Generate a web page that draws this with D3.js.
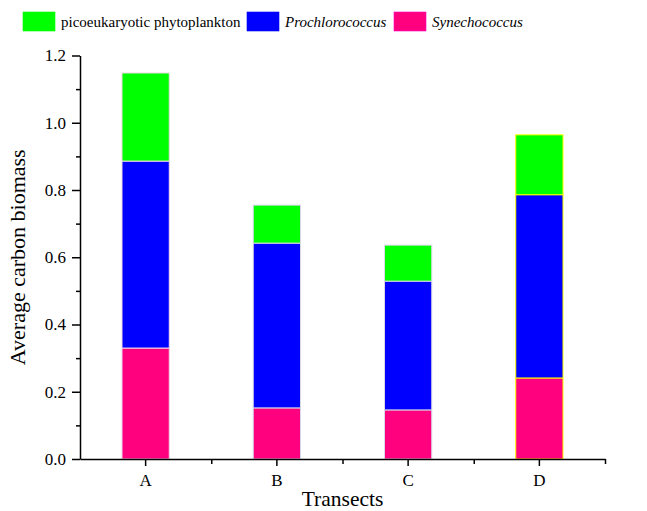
<!DOCTYPE html>
<html>
<head>
<meta charset="utf-8">
<script src="https://cdn.jsdelivr.net/npm/d3@7"></script>
<style>
  body { margin: 0; background: #fff; }
</style>
</head>
<body>
<div id="graph"></div>
<script>
// Data
const transects = ['A', 'B', 'C', 'D']
const synechococcus = [0.33, 0.152, 0.146, 0.241]
const prochlorococcus = [0.556, 0.49, 0.383, 0.545]
const picoeukaryotes = [0.262, 0.113, 0.107, 0.178]
const yTicks = [0.0, 0.2, 0.4, 0.6, 0.8, 1.0, 1.2]

const seriesNames = ['picoeukaryotic phytoplankton', 'Prochlorococcus', 'Synechococcus']
const seriesColors = ['#00ff00', '#0000ff', '#ff007f']

const serif = '"Liberation Serif", "Times New Roman", serif'

const total_width = 647
const total_height = 511
const margins = { top: 55.5, left: 80, right: 42, bottom: 52 }
const width = total_width - margins.left - margins.right
const height = total_height - margins.top - margins.bottom

const svg = d3.select('#graph').append('svg')
  .attr('width', total_width)
  .attr('height', total_height)
  .style('font-family', serif)

const g = svg.append('g')
  .attr('transform', `translate(${margins.left}, ${margins.top})`)

const x = d3.scaleBand().domain(transects).range([0, width]).padding(0)
const y = d3.scaleLinear().domain([0, 1.2]).range([height, 0])

// build rows for the stack (bottom to top: Syn, Pro, Pico)
const rows = transects.map((t, i) => ({
  transect: t,
  Synechococcus: synechococcus[i],
  Prochlorococcus: prochlorococcus[i],
  'picoeukaryotic phytoplankton': picoeukaryotes[i]
}))
const stackKeys = ['Synechococcus', 'Prochlorococcus', 'picoeukaryotic phytoplankton']
const stacked = d3.stack().keys(stackKeys)(rows)
const color = d3.scaleOrdinal().domain(seriesNames).range(seriesColors)
const outline = d3.scaleOrdinal().domain(transects).range(['#f0d8e8', '#d8d8e8', '#d8d8e8', '#ffff00'])

const barWidth = x.bandwidth() * 0.36

g.selectAll('.layer')
  .data(stacked)
  .enter().append('g')
  .attr('class', 'layer')
  .attr('fill', d => color(d.key))
  .selectAll('rect')
  .data(d => d)
  .enter().append('rect')
  .attr('x', d => x(d.data.transect) + (x.bandwidth() - barWidth) / 2)
  .attr('width', barWidth)
  .attr('y', d => y(d[1]))
  .attr('height', d => y(d[0]) - y(d[1]))
  .attr('stroke', d => outline(d.data.transect))
  .attr('stroke-width', 1)

// y axis with minor ticks
const yMinor = d3.range(0.1, 1.2, 0.2)
g.append('g')
  .call(d3.axisLeft(y).tickValues(yMinor).tickSize(4).tickFormat(''))
  .call(a => a.select('.domain').remove())
  .selectAll('line').attr('stroke-width', 1.5)
const yAxis = g.append('g')
  .call(d3.axisLeft(y).tickValues(yTicks).tickSize(8).tickSizeOuter(0).tickFormat(d3.format('.1f')))
yAxis.attr('font-family', serif).attr('font-size', 17)
yAxis.select('.domain').attr('stroke-width', 1.5)
yAxis.selectAll('line').attr('stroke-width', 1.5)
yAxis.selectAll('text').attr('x', -14)

// x axis: major ticks at centres, minor at band edges
g.append('g')
  .attr('transform', `translate(0, ${height})`)
  .call(d3.axisBottom(d3.scaleLinear().domain([0, 1]).range([0, width]))
    .tickValues(transects.slice(1).map(t => x(t) / width).concat([1])).tickSize(5).tickFormat(''))
  .call(a => a.select('.domain').remove())
  .selectAll('line').attr('stroke-width', 1.5)
const xAxis = g.append('g')
  .attr('transform', `translate(0, ${height})`)
  .call(d3.axisBottom(x).tickSize(7).tickSizeOuter(0))
xAxis.attr('font-family', serif).attr('font-size', 17)
xAxis.select('.domain').attr('stroke-width', 1.5)
xAxis.selectAll('line').attr('stroke-width', 1.5)
xAxis.selectAll('text').attr('y', 15)

// axis titles
svg.append('text')
  .attr('x', margins.left + width / 2)
  .attr('y', 506)
  .attr('text-anchor', 'middle')
  .attr('font-size', 21.5)
  .text('Transects')

svg.append('text')
  .attr('transform', `translate(25, ${margins.top + height / 2}) rotate(-90)`)
  .attr('text-anchor', 'middle')
  .attr('font-size', 22)
  .text('Average carbon biomass')

// legend
const legendX = [23, 247, 394]
const legend = svg.append('g')
seriesNames.forEach((name, i) => {
  legend.append('rect')
    .attr('x', legendX[i]).attr('y', 12)
    .attr('width', 32).attr('height', 19)
    .attr('fill', color(name))
    .attr('stroke', d3.color(color(name)).brighter(1.2))
    .attr('stroke-width', 0.6)
  legend.append('text')
    .attr('x', legendX[i] + 38).attr('y', 27)
    .attr('font-size', 15)
    .attr('font-style', i === 0 ? 'normal' : 'italic')
    .text(name)
})
</script>
</body>
</html>
